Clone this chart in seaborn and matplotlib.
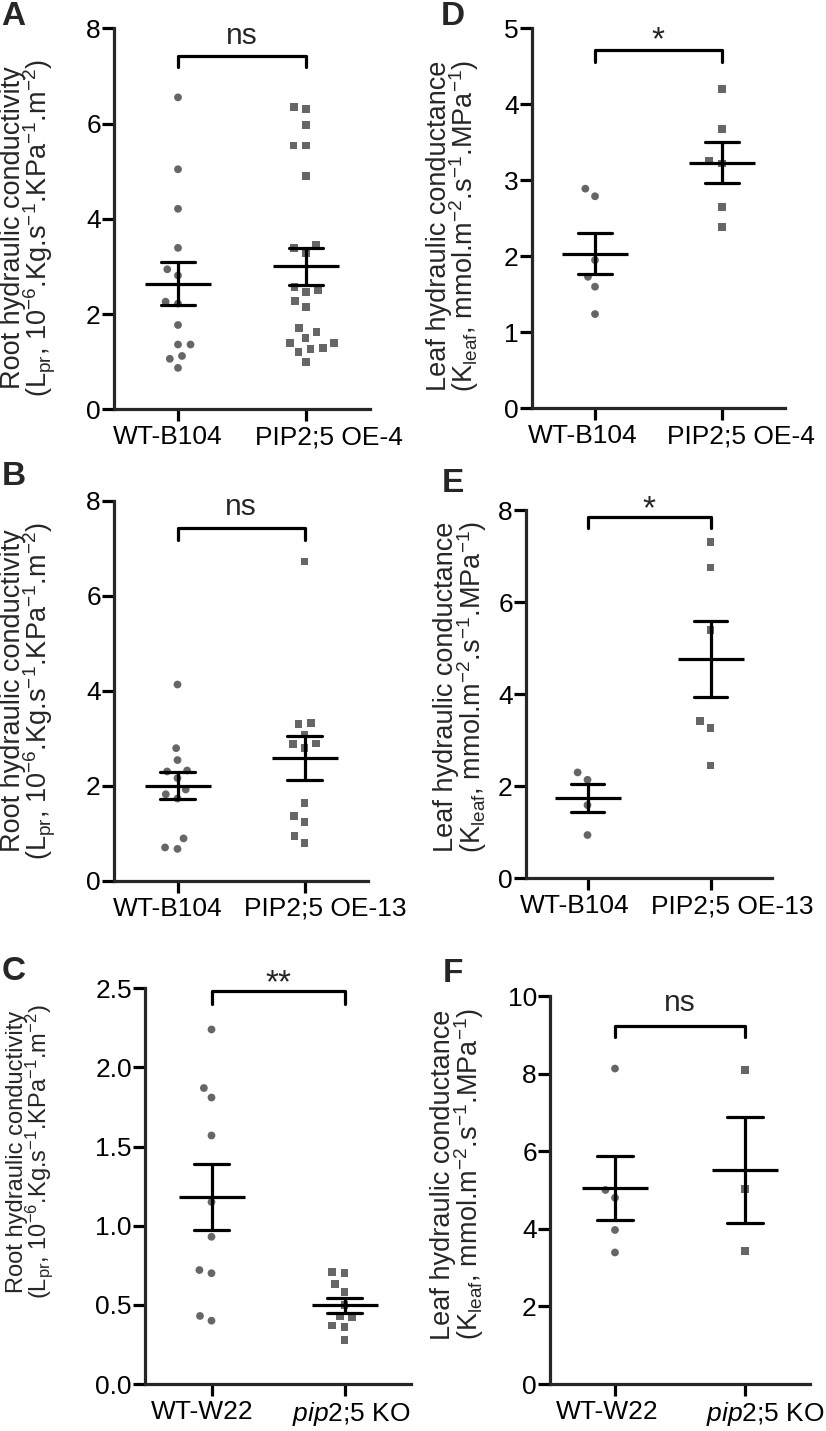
import matplotlib
matplotlib.use('Agg')
import matplotlib.pyplot as plt
from matplotlib.ticker import FormatStrFormatter
from matplotlib.transforms import ScaledTranslation
import numpy as np
import pandas as pd
import seaborn as sns

# values (one dot per plant)
lpr_wt_a = [6.55, 5.04, 4.21, 3.39, 2.94, 2.81, 2.26, 2.22, 1.77, 1.36, 1.36, 1.12, 1.06, 0.87]
lpr_oe4 = [6.35, 6.30, 5.97, 5.54, 5.54, 4.90, 3.45, 3.38, 3.29, 2.56, 2.51, 2.46,
           2.27, 2.14, 1.71, 1.62, 1.50, 1.39, 1.39, 1.28, 1.27, 1.20, 1.00]
lpr_wt_b = [4.13, 2.79, 2.54, 2.32, 2.30, 2.16, 1.92, 1.82, 1.73, 0.89, 0.70, 0.67]
lpr_oe13 = [6.72, 3.32, 3.30, 3.08, 2.89, 2.88, 2.79, 1.64, 1.37, 1.24, 0.94, 0.79]
lpr_w22 = [2.24, 1.87, 1.81, 1.57, 1.15, 0.93, 0.72, 0.70, 0.43, 0.40]
lpr_ko = [0.71, 0.70, 0.63, 0.58, 0.50, 0.43, 0.42, 0.37, 0.36, 0.28]

kleaf_wt_d = [2.89, 2.79, 1.95, 1.73, 1.60, 1.24]
kleaf_oe4 = [4.20, 3.68, 3.25, 3.22, 2.65, 2.39]
kleaf_wt_e = [2.30, 2.14, 1.59, 0.94]
kleaf_oe13 = [7.31, 6.75, 5.39, 3.42, 3.27, 2.45]
kleaf_w22 = [8.13, 5.00, 4.80, 3.97, 3.39]
kleaf_ko = [8.09, 5.03, 3.43]

labels_a = ['WT-B104', 'PIP2;5 OE-4']
labels_b = ['WT-B104', 'PIP2;5 OE-13']
labels_c = ['WT-W22', r'$\mathit{pip2}$;$\mathit{5}$ KO']
signif = {'A': 'ns', 'B': 'ns', 'C': '**', 'D': '*', 'E': '*', 'F': 'ns'}

root_label = 'Root hydraulic conductivity\n(L$_{pr}$, 10$^{-6}$.Kg.s$^{-1}$.KPa$^{-1}$.m$^{-2}$)'
leaf_label = 'Leaf hydraulic conductance\n(K$_{leaf}$, mmol.m$^{-2}$.s$^{-1}$.MPa$^{-1}$)'

sns.set_style('ticks')
plt.rcParams['font.family'] = ['Liberation Sans', 'DejaVu Sans']
plt.rcParams['mathtext.fontset'] = 'custom'
plt.rcParams['mathtext.rm'] = 'Liberation Sans'
plt.rcParams['mathtext.it'] = 'Liberation Sans:italic'
plt.rcParams['mathtext.bf'] = 'Liberation Sans:bold'
plt.rcParams['mathtext.default'] = 'regular'

W, H = 826, 1431
GRAY = '#666666'
LW = 2.3


def px_axes(fig, left, right, top, bottom):
    return fig.add_axes([left / W, 1 - bottom / H, (right - left) / W, (bottom - top) / H])


def dot_panel(ax, wt, mut, labels, ymax, ystep, ylabel, label_xy, label_shift,
              sig, bracket, leg, sig_y, decimals=False, ylabel_size=19.5):
    df = pd.DataFrame({'group': [labels[0]] * len(wt) + [labels[1]] * len(mut),
                       'value': list(wt) + list(mut)})
    for name, marker in zip(labels, ['o', 's']):
        sns.swarmplot(data=df[df['group'] == name], x='group', y='value', order=labels,
                      marker=marker, color=GRAY, size=5.6, linewidth=3.0,
                      edgecolor='none', ax=ax, zorder=2)
    sns.pointplot(data=df, x='group', y='value', order=labels, estimator='mean',
                  errorbar='se', capsize=0.27, color='black', marker='_',
                  markersize=48, markeredgewidth=LW, linestyle='none', linewidth=LW,
                  err_kws={'linewidth': LW, 'zorder': 5}, ax=ax, zorder=5)
    ax.set_xlim(-0.5, 1.5)
    ax.set_ylim(0, ymax)
    ax.set_yticks(np.arange(0, ymax + ystep / 2, ystep))
    if decimals:
        ax.yaxis.set_major_formatter(FormatStrFormatter('%.1f'))
    ax.set_xticks([0, 1])
    ax.set_xticklabels(labels)
    ax.set_xlabel('')
    ax.set_ylabel(ylabel, fontsize=ylabel_size, linespacing=0.82, va='center')
    ax.yaxis.set_label_coords(*label_xy)
    sns.despine(ax=ax)
    for side in ['left', 'bottom']:
        ax.spines[side].set_linewidth(LW)
    ax.tick_params(axis='both', length=8.5, width=LW, labelsize=19, colors='black')
    ax.tick_params(axis='y', pad=1)
    ax.tick_params(axis='x', pad=3)
    # category labels sit a little apart from their ticks, as in the original
    for tl, dx in zip(ax.get_xticklabels(), label_shift):
        tl.set_transform(tl.get_transform() + ScaledTranslation(dx / 100, 0, ax.figure.dpi_scale_trans))
    # significance bracket
    ax.plot([0, 0, 1, 1], [leg, bracket, bracket, leg], color='black', lw=LW,
            clip_on=False, zorder=6)
    ax.text(0.5, sig_y, sig, ha='center', va='center', fontsize=21.5 if sig == 'ns' else 24)


fig = plt.figure(figsize=(W / 100, H / 100), dpi=100)

ax_a = px_axes(fig, 114, 370, 28.3, 409.3)
dot_panel(ax_a, lpr_wt_a, lpr_oe4, labels_a, 8, 2, root_label, (-0.332, 0.476), (-10, 23),
          signif['A'], 7.41, 7.18, 7.83)
ax_b = px_axes(fig, 114, 368, 500.7, 880.7)
dot_panel(ax_b, lpr_wt_b, lpr_oe13, labels_b, 8, 2, root_label, (-0.335, 0.5), (-10, 21),
          signif['B'], 7.42, 7.17, 7.87)
ax_c = px_axes(fig, 145, 411, 988.3, 1384)
dot_panel(ax_c, lpr_w22, lpr_ko, labels_c, 2.5, 0.5, root_label, (-0.43, 0.586), (-9, 7),
          signif['C'], 2.48, 2.40, 2.53, decimals=True, ylabel_size=17)
ax_d = px_axes(fig, 531.7, 785, 28.3, 408.3)
dot_panel(ax_d, kleaf_wt_d, kleaf_oe4, labels_a, 5, 1, leaf_label, (-0.31, 0.48), (-12, 19),
          signif['D'], 4.71, 4.56, 4.83)
ax_e = px_axes(fig, 526, 772, 510, 878.3)
dot_panel(ax_e, kleaf_wt_e, kleaf_oe13, labels_b, 8, 2, leaf_label, (-0.264, 0.52), (-13, 22),
          signif['E'], 7.85, 7.6, 8.0)
ax_f = px_axes(fig, 550, 810, 996, 1384)
dot_panel(ax_f, kleaf_w22, kleaf_ko, labels_c, 10, 2, leaf_label, (-0.354, 0.54), (-8, 20),
          signif['F'], 9.23, 8.95, 9.81)

for letter, (x, y) in zip('ABCDEF', [(1, 1), (2, 461), (2, 956), (441, 1), (442, 468), (443, 958)]):
    fig.text(x / W, 1 - y / H, letter, fontsize=24, fontweight='bold', ha='left', va='top')

fig.savefig('out.png', dpi=100)
